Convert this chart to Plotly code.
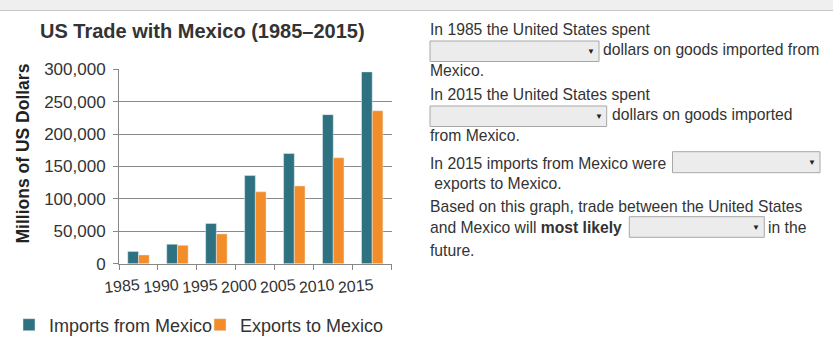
import plotly.graph_objects as go

W, H = 833, 352

years = ["1985", "1990", "1995", "2000", "2005", "2010", "2015"]
imports_mx = [19000, 30000, 62000, 136000, 170000, 230000, 296000]
exports_mx = [13500, 28300, 46000, 111000, 120000, 163500, 236000]
series_names = ["Imports from Mexico", "Exports to Mexico"]
y_ticks = [0, 50000, 100000, 150000, 200000, 250000, 300000]

TEAL = "#2e7181"
ORANGE = "#f28d29"
TXT = "#333333"
FONT = "Liberation Sans, Arial, sans-serif"


def px(x):
    return x / W


def py(y):
    return 1 - y / H


fig = go.Figure()
fig.add_trace(go.Bar(x=years, y=imports_mx, name=series_names[0], marker_color=TEAL))
fig.add_trace(go.Bar(x=years, y=exports_mx, name=series_names[1], marker_color=ORANGE))

fig.update_layout(
    width=W, height=H,
    margin=dict(l=0, r=0, t=0, b=0),
    paper_bgcolor="white", plot_bgcolor="white",
    barmode="group", bargap=0.45, bargroupgap=0,
    font=dict(family=FONT, color=TXT, size=16),
    showlegend=True,
    legend=dict(orientation="h", x=px(9), xanchor="left", y=py(325), yanchor="middle",
                font=dict(size=18, color=TXT), bgcolor="rgba(0,0,0,0)",
                traceorder="normal", entrywidth=146, entrywidthmode="pixels"),
    xaxis=dict(domain=[px(119), px(391.7)], type="category",
               tickson="boundaries", ticks="outside", ticklen=5, tickcolor="#888",
               showline=True, linecolor="#888", linewidth=1,
               showgrid=False, tickangle=-5, ticklabelshift=1, ticklabelstandoff=6,
               tickfont=dict(size=16, color=TXT), automargin=False),
    yaxis=dict(domain=[py(263.7), py(69.3)], range=[0, 300000],
               tickvals=y_ticks, tickformat=",", ticks="outside", ticklen=5,
               tickcolor="#888", showline=True, linecolor="#888", linewidth=1,
               showgrid=True, gridcolor="#8a8a8a", gridwidth=1, zeroline=False,
               ticklabelstandoff=4,
               tickfont=dict(size=17, color=TXT), automargin=False),
)

shapes = []
annotations = []

# top grey band
shapes.append(dict(type="rect", xref="paper", yref="paper", x0=0, x1=1, y0=py(10.5), y1=1,
                   fillcolor="#efefef", line=dict(width=0), layer="below"))
shapes.append(dict(type="line", xref="paper", yref="paper", x0=0, x1=1, y0=py(10.5), y1=py(10.5),
                   line=dict(color="#c9c9c9", width=1)))

# title
annotations.append(dict(text="<b>US Trade with Mexico (1985–2015)</b>", x=px(202.5), y=py(30.5),
                        xref="paper", yref="paper", xanchor="center", yanchor="middle",
                        showarrow=False, font=dict(size=20, color=TXT)))
# y axis title
annotations.append(dict(text="<b>Millions of US Dollars</b>", x=px(22), y=py(153.5),
                        xref="paper", yref="paper", xanchor="center", yanchor="middle",
                        textangle=-90, showarrow=False, font=dict(size=17.5, color="#222")))

# right-hand text
lines = [
    ("In 1985 the United States spent", 431, 30),
    ("dollars on goods imported from", 604, 49.5),
    ("Mexico.", 431, 71),
    ("In 2015 the United States spent", 431, 94),
    ("dollars on goods imported", 613, 114),
    ("from Mexico.", 431, 135.5),
    ("In 2015 imports from Mexico were", 431, 163),
    (" exports to Mexico.", 431, 183),
    ("Based on this graph, trade between the United States", 431, 206),
    ("and Mexico will <b>most likely</b>", 431, 227.5),
    ("in the", 769, 227.5),
    ("future.", 431, 250.5),
]
for t, x, y in lines:
    annotations.append(dict(text=t, x=px(x - 3), y=py(y), xref="paper", yref="paper",
                            xanchor="left", yanchor="middle", showarrow=False,
                            font=dict(size=15.7, color=TXT)))

# dropdown boxes
boxes = [(430, 599, 41, 61.5), (430, 606.7, 106, 126.5), (672.5, 820, 151.7, 172.7), (629.3, 764.3, 216.7, 237.3)]
for x0, x1, y0, y1 in boxes:
    shapes.append(dict(type="rect", xref="paper", yref="paper", x0=px(x0), x1=px(x1),
                       y0=py(y1), y1=py(y0), fillcolor="#ececec",
                       line=dict(color="#a8a8a8", width=1)))
    annotations.append(dict(text="▼", x=px(x1 - 8), y=py((y0 + y1) / 2), xref="paper", yref="paper",
                            xanchor="center", yanchor="middle", showarrow=False,
                            font=dict(size=8, color="#222")))

fig.update_layout(shapes=shapes, annotations=annotations)
fig.write_html("out.html")
